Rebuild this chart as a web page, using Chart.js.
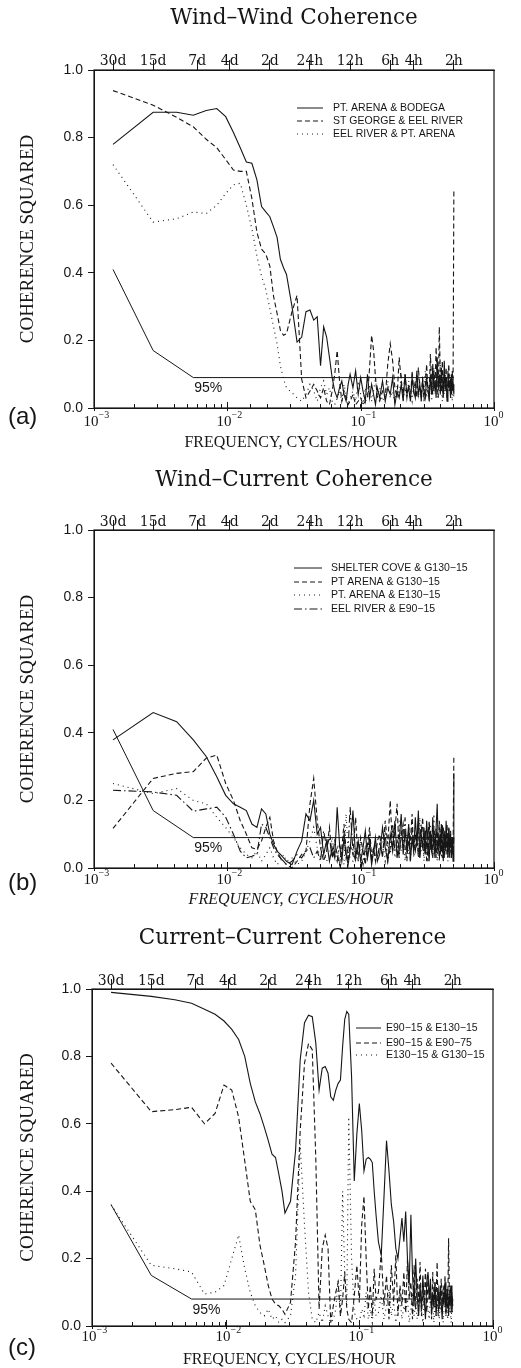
<!DOCTYPE html>
<html>
<head>
<meta charset="utf-8">
<script src="https://cdn.jsdelivr.net/npm/chart.js@4.4.1/dist/chart.umd.min.js"></script>
<style>
  html, body { margin: 0; background: #fff; overflow: hidden; }
  canvas { position: absolute; left: 0; }
</style>
</head>
<body>
<canvas id="chartA" width="521" height="455" style="top:0px"></canvas>
<canvas id="chartB" width="521" height="460" style="top:455px"></canvas>
<canvas id="chartC" width="521" height="453" style="top:915px"></canvas>
<script>
// harmonic numbers of the 30-day record (k / 720 = cycles per hour)
const harmonics = [1,2,3,4,5,6,7,8,9,10,11,12,13,14,15,16,17,18,19,20,
  22,24,26,28,30,32,34,36,38,40,42,44,46,48,50,52,54,56,58,60,
  63,66,69,72,75,78,81,84,87,90,93,96,
  100,105,110,115,120,125,130,135,140,145,150,155,160,165,170,175,180,185,190,195,200,205,210,215,220,225,230,235,240,245,
  250,255,260,265,270,275,280,285,290,295,300,305,310,315,320,325,330,335,340,345,350,355,360];

// top axis: periods
const periodTicks = [0.001389, 0.002778, 0.005952, 0.010417, 0.020833, 0.041667, 0.083333, 0.166667, 0.25, 0.5];
const periodLabels = ['30d', '15d', '7d', '4d', '2d', '24h', '12h', '6h', '4h', '2h'];
// bottom axis: decades
const decadeTicks = [0.001, 0.01, 0.1, 1];
const decadeExponents = ['\u22123', '\u22122', '\u22121', '0'];

// 95% significance level
const sigHarmonics = [1, 2, 4, 360];

// (a) wind-wind
const arenaBodega = [0.78,0.875,0.875,0.866,0.88,0.886,0.862,0.815,0.77,0.728,0.724,0.675,0.596,0.58,0.566,0.535,0.505,0.44,0.415,0.395,
  0.30,0.195,0.21,0.285,0.29,0.26,0.27,0.125,0.24,0.21,0.15,0.09,0.05,0.03,0.06,0.08,0.04,0.02,0.07,0.10,
  0.06,0.11,0.04,0.09,0.05,0.02,0.10,0.03,0.07,0.04,0.01,0.06,
  0.03,0.08,0.02,0.06,0.04,0.09,0.01,0.05,0.03,0.07,0.02,0.10,0.04,0.06,0.02,0.09,0.05,0.03,0.11,0.04,0.07,0.02,0.08,0.05,0.03,0.09,
  0.06,0.02,0.10,0.04,0.13,0.05,0.08,0.03,0.15,0.06,0.10,0.04,0.12,0.07,0.03,0.14,0.05,0.09,0.02,0.11,0.06,0.08,0.03,0.10,0.05,0.07,0.04];
const stGeorgeEel = [0.939,0.896,0.86,0.832,0.795,0.77,0.735,0.704,0.70,0.70,0.62,0.52,0.47,0.455,0.42,0.33,0.28,0.23,0.215,0.22,
  0.285,0.333,0.085,0.03,0.05,0.07,0.05,0.03,0.06,0.02,0.01,0.05,0.10,0.17,0.08,0.02,0.05,0.03,0.01,0.02,
  0.04,0.01,0.02,0.03,0.01,0.02,0.03,0.12,0.215,0.17,0.09,0.03,
  0.02,0.05,0.03,0.13,0.19,0.14,0.06,0.03,0.15,0.08,0.04,0.10,0.03,0.07,0.02,0.11,0.05,0.08,0.03,0.12,0.06,0.04,0.09,0.02,0.07,0.13,
  0.05,0.03,0.16,0.08,0.04,0.11,0.06,0.18,0.07,0.03,0.24,0.09,0.05,0.14,0.04,0.10,0.06,0.12,0.03,0.08,0.13,0.05,0.09,0.04,0.11,0.06,0.645];
const eelArena = [0.72,0.55,0.56,0.58,0.575,0.60,0.635,0.66,0.665,0.60,0.53,0.45,0.39,0.35,0.295,0.24,0.19,0.125,0.085,0.06,
  0.045,0.03,0.02,0.04,0.07,0.05,0.02,0.06,0.08,0.04,0.06,0.02,0.01,0.03,0.05,0.02,0.07,0.04,0.01,0.03,
  0.05,0.02,0.08,0.04,0.01,0.06,0.03,0.07,0.02,0.05,0.09,0.03,
  0.06,0.02,0.04,0.08,0.03,0.05,0.01,0.07,0.04,0.09,0.02,0.06,0.03,0.08,0.05,0.02,0.07,0.04,0.10,0.03,0.06,0.02,0.08,0.05,0.11,0.03,
  0.07,0.04,0.09,0.02,0.06,0.12,0.04,0.08,0.03,0.10,0.05,0.14,0.06,0.02,0.09,0.04,0.11,0.07,0.03,0.08,0.05,0.10,0.04,0.07,0.02,0.06,0.03];
const sigWindWind = [0.41, 0.17, 0.09, 0.09];

// (b) wind-current
const shelterG130 = [0.379,0.46,0.433,0.379,0.33,0.27,0.215,0.19,0.18,0.17,0.13,0.12,0.175,0.16,0.10,0.07,0.05,0.04,0.03,0.02,
  0.01,0.05,0.08,0.16,0.14,0.20,0.10,0.12,0.04,0.08,0.02,0.06,0.03,0.18,0.07,0.02,0.09,0.04,0.01,0.05,
  0.17,0.03,0.08,0.02,0.06,0.11,0.03,0.07,0.01,0.05,0.09,0.02,
  0.04,0.12,0.06,0.02,0.10,0.05,0.14,0.03,0.08,0.16,0.04,0.11,0.06,0.13,0.02,0.09,0.05,0.15,0.07,0.17,0.03,0.10,0.06,0.12,0.04,0.14,
  0.08,0.02,0.11,0.05,0.15,0.07,0.03,0.12,0.19,0.06,0.09,0.04,0.13,0.07,0.02,0.11,0.05,0.14,0.08,0.03,0.12,0.06,0.10,0.04,0.09,0.02,0.28];
const arenaG130 = [0.117,0.265,0.28,0.285,0.325,0.334,0.25,0.20,0.14,0.10,0.06,0.055,0.08,0.12,0.15,0.08,0.05,0.03,0.02,0.01,
  0.0,0.02,0.04,0.05,0.19,0.265,0.14,0.06,0.02,0.05,0.12,0.03,0.08,0.04,0.01,0.06,0.13,0.05,0.02,0.07,
  0.04,0.15,0.02,0.09,0.05,0.01,0.07,0.12,0.03,0.06,0.02,0.08,
  0.10,0.03,0.14,0.07,0.20,0.05,0.11,0.19,0.04,0.09,0.13,0.06,0.02,0.12,0.08,0.16,0.04,0.10,0.06,0.14,0.03,0.09,0.15,0.05,0.11,0.07,
  0.02,0.13,0.06,0.10,0.04,0.12,0.08,0.03,0.11,0.05,0.14,0.07,0.10,0.03,0.12,0.06,0.09,0.04,0.13,0.05,0.08,0.03,0.11,0.06,0.09,0.04,0.335];
const arenaE130 = [0.25,0.22,0.235,0.20,0.19,0.15,0.12,0.09,0.06,0.04,0.03,0.05,0.02,0.04,0.06,0.03,0.01,0.02,0.04,0.02,
  0.03,0.01,0.02,0.05,0.08,0.12,0.06,0.03,0.05,0.02,0.04,0.09,0.03,0.06,0.02,0.04,0.01,0.16,0.05,0.03,
  0.02,0.06,0.03,0.08,0.04,0.02,0.05,0.09,0.03,0.06,0.02,0.04,
  0.05,0.09,0.02,0.07,0.04,0.11,0.03,0.06,0.14,0.05,0.08,0.02,0.10,0.04,0.07,0.12,0.03,0.06,0.09,0.04,0.15,0.05,0.08,0.02,0.11,0.06,
  0.09,0.03,0.13,0.05,0.07,0.16,0.04,0.08,0.02,0.10,0.06,0.12,0.03,0.07,0.09,0.04,0.11,0.05,0.08,0.02,0.10,0.04,0.07,0.03,0.09,0.05,0.06];
const eelE90 = [0.23,0.225,0.215,0.168,0.175,0.18,0.15,0.10,0.05,0.03,0.035,0.04,0.13,0.12,0.09,0.06,0.04,0.03,0.02,0.01,
  0.02,0.04,0.03,0.05,0.06,0.03,0.05,0.02,0.11,0.06,0.09,0.03,0.05,0.02,0.07,0.04,0.10,0.03,0.06,0.18,
  0.05,0.02,0.08,0.04,0.01,0.06,0.03,0.10,0.02,0.05,0.08,0.03,
  0.07,0.04,0.10,0.02,0.06,0.13,0.05,0.08,0.03,0.11,0.06,0.15,0.04,0.09,0.02,0.12,0.07,0.05,0.10,0.03,0.08,0.13,0.06,0.04,0.11,0.02,
  0.09,0.14,0.05,0.07,0.03,0.10,0.06,0.12,0.04,0.08,0.02,0.11,0.05,0.13,0.07,0.03,0.10,0.06,0.09,0.04,0.12,0.05,0.08,0.03,0.07,0.05,0.09];
const sigWindCurrent = [0.41, 0.17, 0.09, 0.09];

// (c) current-current
const e90e130 = [0.99,0.978,0.968,0.958,0.94,0.925,0.905,0.88,0.85,0.80,0.72,0.665,0.63,0.59,0.55,0.51,0.50,0.45,0.40,0.335,
  0.37,0.52,0.79,0.90,0.922,0.918,0.84,0.70,0.765,0.77,0.75,0.68,0.67,0.70,0.72,0.73,0.83,0.91,0.933,0.925,
  0.74,0.43,0.57,0.66,0.58,0.46,0.495,0.50,0.495,0.485,0.40,0.33,
  0.25,0.21,0.38,0.55,0.46,0.36,0.31,0.23,0.20,0.26,0.32,0.25,0.34,0.20,0.12,0.33,0.15,0.06,0.20,0.09,0.03,0.12,0.05,0.15,0.08,0.02,
  0.13,0.16,0.08,0.14,0.04,0.10,0.06,0.13,0.03,0.09,0.11,0.05,0.12,0.07,0.02,0.10,0.06,0.13,0.04,0.08,0.11,0.03,0.09,0.06,0.12,0.04,0.08];
const e90e90deep = [0.78,0.636,0.642,0.649,0.60,0.631,0.715,0.70,0.62,0.49,0.37,0.345,0.24,0.18,0.12,0.08,0.065,0.06,0.05,0.035,
  0.07,0.25,0.58,0.78,0.838,0.82,0.50,0.05,0.23,0.27,0.23,0.01,0.06,0.10,0.13,0.03,0.08,0.16,0.05,0.02,
  0.01,0.09,0.18,0.07,0.30,0.385,0.20,0.05,0.12,0.03,0.17,0.08,
  0.10,0.22,0.06,0.15,0.02,0.18,0.07,0.21,0.03,0.12,0.06,0.16,0.04,0.20,0.08,0.13,0.02,0.18,0.05,0.14,0.07,0.19,0.03,0.11,0.06,0.17,
  0.04,0.15,0.08,0.12,0.02,0.16,0.05,0.13,0.07,0.19,0.03,0.10,0.06,0.14,0.04,0.12,0.08,0.15,0.03,0.11,0.05,0.26,0.07,0.12,0.04,0.10,0.06];
const e130g130 = [0.36,0.18,0.17,0.16,0.095,0.10,0.12,0.20,0.27,0.17,0.10,0.06,0.04,0.03,0.05,0.02,0.03,0.01,0.02,0.01,
  0.03,0.15,0.54,0.30,0.10,0.02,0.01,0.04,0.01,0.06,0.03,0.01,0.02,0.05,0.14,0.03,0.40,0.15,0.06,0.62,
  0.20,0.04,0.02,0.01,0.05,0.03,0.10,0.02,0.05,0.01,0.08,0.03,
  0.04,0.09,0.02,0.06,0.11,0.03,0.07,0.01,0.05,0.09,0.02,0.06,0.04,0.08,0.01,0.05,0.10,0.03,0.07,0.02,0.06,0.09,0.04,0.01,0.07,0.03,
  0.08,0.05,0.02,0.10,0.04,0.06,0.01,0.08,0.03,0.05,0.09,0.02,0.06,0.04,0.07,0.01,0.05,0.08,0.03,0.06,0.02,0.09,0.04,0.05,0.01,0.07,0.03];
const sigCurrent = [0.36, 0.15, 0.08, 0.08];

const INK = '#161616';
const SOLID = [], DASH = [5, 3], DOT = [1, 4], DASHDOT = [8, 3, 1.5, 3];

function toPoints(ks, vals) {
  return ks.map((k, i) => ({ x: k / 720, y: vals[i] }));
}

// frame, titles, decade labels, 95% tag and legend
const decor = {
  id: 'decor',
  afterDatasetsDraw(chart, args, o) {
    const { ctx, chartArea: a, scales } = chart;
    const midX = (a.left + a.right) / 2;
    ctx.save();
    ctx.strokeStyle = INK;
    ctx.fillStyle = INK;
    ctx.lineWidth = 1.2;
    ctx.setLineDash([]);
    ctx.strokeRect(a.left, a.top, a.right - a.left, a.bottom - a.top);

    ctx.textAlign = 'center';
    ctx.textBaseline = 'middle';
    ctx.font = '21.5px "DejaVu Serif"';
    ctx.fillText(o.title, midX, a.top + o.titleDy);

    ctx.font = (o.italicX ? 'italic ' : '') + '16px "Liberation Serif"';
    ctx.fillText('FREQUENCY, CYCLES/HOUR', midX - 3, a.bottom + o.xTitleDy);

    ctx.save();
    ctx.translate(28, (a.top + a.bottom) / 2);
    ctx.rotate(-Math.PI / 2);
    ctx.font = '19px "Liberation Serif"';
    ctx.fillText('COHERENCE SQUARED', 0, 0);
    ctx.restore();

    decadeTicks.forEach((v, i) => {
      const x = Math.round(scales.x.getPixelForValue(v)) + 0.5;
      ctx.lineWidth = 1;
      ctx.beginPath();
      ctx.moveTo(x, a.bottom - 6);
      ctx.lineTo(x, a.bottom + 3);
      ctx.stroke();
      const y = a.bottom + o.tickDy;
      ctx.font = '15px "Liberation Serif"';
      ctx.textAlign = 'right';
      ctx.fillText('10', x + 4, y);
      ctx.font = '10px "Liberation Serif"';
      ctx.textAlign = 'left';
      ctx.fillText(decadeExponents[i], x + 4, y - 7);
    });

    ctx.font = '24px "Liberation Sans"';
    ctx.textAlign = 'left';
    ctx.fillText(o.letter, 8, a.bottom + o.letterDy);

    const sigSet = chart.data.datasets[chart.data.datasets.length - 1];
    const corner = sigSet.data[2];
    ctx.font = '14px "Liberation Sans"';
    ctx.fillText('95%', scales.x.getPixelForValue(corner.x) + 1, scales.y.getPixelForValue(corner.y) + 11);

    const lg = o.legend;
    ctx.font = '10.5px "Liberation Sans"';
    lg.rows.forEach((y, i) => {
      const ds = chart.data.datasets[i];
      ctx.lineWidth = 1;
      ctx.setLineDash(ds.borderDash);
      ctx.beginPath();
      ctx.moveTo(lg.x1, y);
      ctx.lineTo(lg.x2, y);
      ctx.stroke();
      ctx.setLineDash([]);
      ctx.fillText(ds.label, lg.tx, y);
    });
    ctx.restore();
  }
};

function makePanel(id, p) {
  const datasets = p.series.map(s => ({
    label: s.label,
    data: toPoints(harmonics, s.values),
    borderColor: INK,
    borderWidth: 1.1,
    borderDash: s.dash,
    pointRadius: 0,
    tension: 0,
    fill: false
  }));
  datasets.push({
    label: '95%',
    data: toPoints(sigHarmonics, p.sig),
    borderColor: INK,
    borderWidth: 1,
    borderDash: SOLID,
    pointRadius: 0,
    fill: false
  });

  new Chart(document.getElementById(id), {
    type: 'line',
    data: { datasets },
    options: {
      responsive: false,
      animation: false,
      events: [],
      layout: { padding: p.padding },
      scales: {
        x: {
          type: 'logarithmic', min: 0.001, max: 1, position: 'bottom',
          border: { color: INK },
          grid: { drawOnChartArea: false, tickLength: -4, color: INK },
          ticks: { autoSkip: false, maxRotation: 0, callback: () => '' },
          afterFit: s => { s.height = 30; }
        },
        x2: {
          type: 'logarithmic', min: 0.001, max: 1, position: 'top',
          border: { color: INK },
          grid: { drawOnChartArea: false, tickLength: 10, color: INK },
          afterBuildTicks: s => { s.ticks = periodTicks.map(v => ({ value: v })); },
          ticks: {
            autoSkip: false, maxRotation: 0, padding: p.topPad, color: INK,
            font: { family: 'DejaVu Serif', size: 14 },
            callback: (v, i) => periodLabels[i]
          },
          afterFit: s => { s.height = 30; }
        },
        y: {
          min: 0, max: 1,
          border: { color: INK },
          grid: { drawOnChartArea: false, tickLength: 6, color: INK },
          ticks: {
            stepSize: 0.2, padding: 5, color: INK,
            font: { family: 'Liberation Sans', size: 14 },
            callback: v => v.toFixed(1)
          },
          afterFit: s => { s.width = 60; }
        }
      },
      plugins: {
        legend: { display: false },
        tooltip: { enabled: false },
        decor: p.decor
      }
    },
    plugins: [decor]
  });
}

makePanel('chartA', {
  series: [
    { label: 'PT. ARENA & BODEGA', values: arenaBodega, dash: SOLID },
    { label: 'ST GEORGE & EEL RIVER', values: stGeorgeEel, dash: DASH },
    { label: 'EEL RIVER & PT. ARENA', values: eelArena, dash: DOT }
  ],
  sig: sigWindWind,
  padding: { top: 40, left: 34, right: 27, bottom: 17 },
  topPad: -10,
  decor: {
    title: 'Wind\u2013Wind Coherence', letter: '(a)',
    titleDy: -52, xTitleDy: 35, tickDy: 14, letterDy: 9, italicX: false,
    legend: { x1: 297, x2: 323, tx: 333, rows: [108, 121, 134] }
  }
});

makePanel('chartB', {
  series: [
    { label: 'SHELTER COVE & G130\u221215', values: shelterG130, dash: SOLID },
    { label: 'PT ARENA & G130\u221215', values: arenaG130, dash: DASH },
    { label: 'PT. ARENA & E130\u221215', values: arenaE130, dash: DOT },
    { label: 'EEL RIVER & E90\u221215', values: eelE90, dash: DASHDOT }
  ],
  sig: sigWindCurrent,
  padding: { top: 45, left: 34, right: 27, bottom: 17 },
  topPad: -11,
  decor: {
    title: 'Wind\u2013Current Coherence', letter: '(b)',
    titleDy: -50, xTitleDy: 32, tickDy: 12, letterDy: 15, italicX: true,
    legend: { x1: 294, x2: 322, tx: 331, rows: [113, 127, 140, 154] }
  }
});

makePanel('chartC', {
  series: [
    { label: 'E90\u221215 & E130\u221215', values: e90e130, dash: SOLID },
    { label: 'E90\u221215 & E90\u221275', values: e90e90deep, dash: DASH },
    { label: 'E130\u221215 & G130\u221215', values: e130g130, dash: DOT }
  ],
  sig: sigCurrent,
  padding: { top: 44, left: 32, right: 28, bottom: 12 },
  topPad: -11,
  decor: {
    title: 'Current\u2013Current Coherence', letter: '(c)',
    titleDy: -51, xTitleDy: 34, tickDy: 11, letterDy: 22, italicX: false,
    legend: { x1: 356, x2: 381, tx: 386, rows: [113, 128, 140] }
  }
});
</script>
</body>
</html>
